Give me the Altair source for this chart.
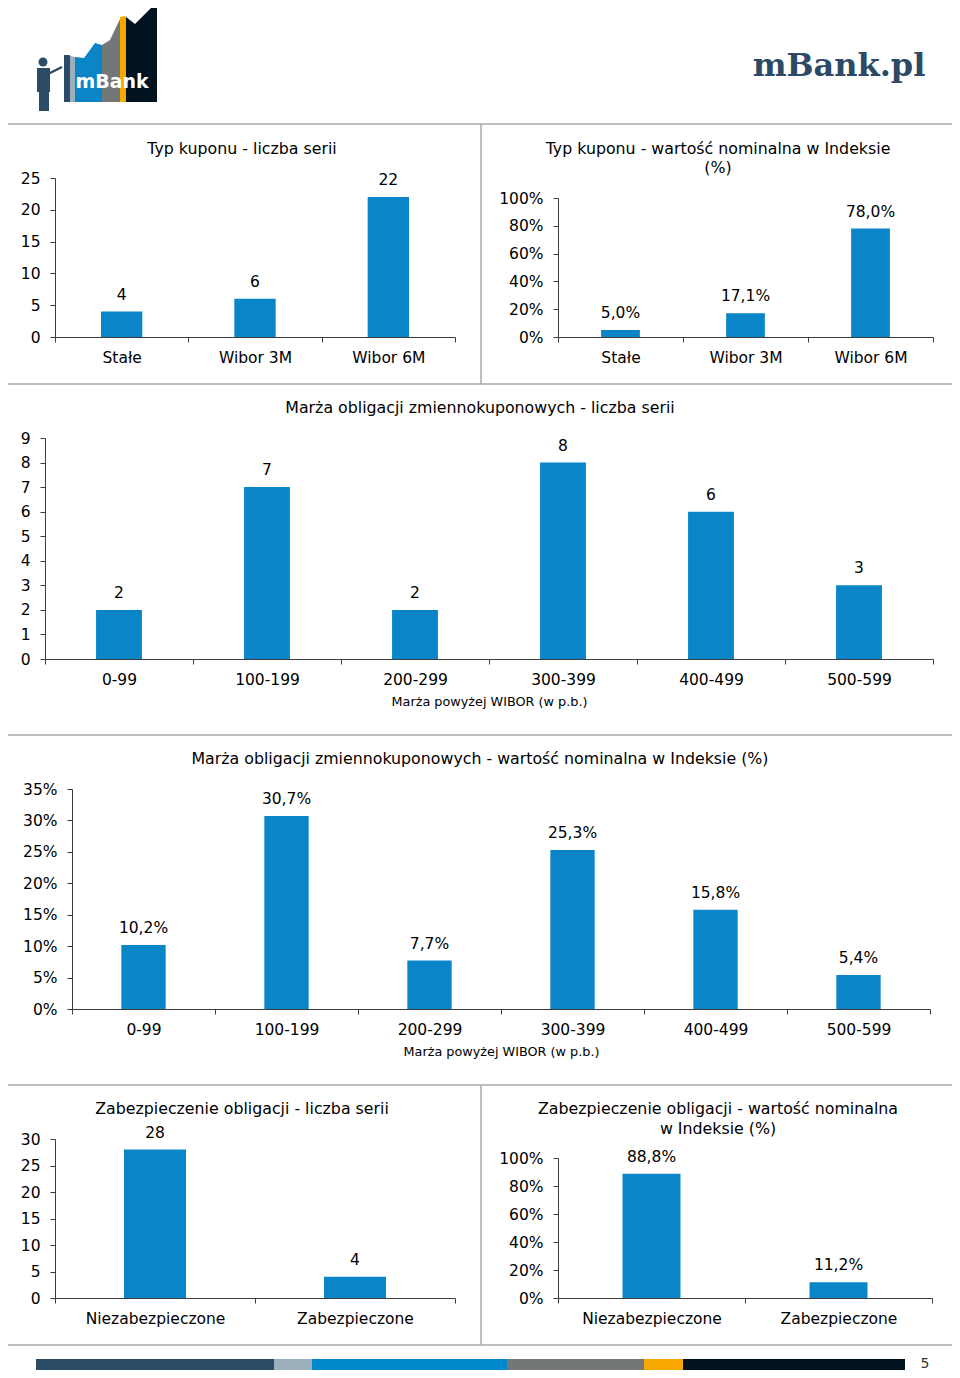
import altair as alt
import pandas as pd

# ---------------- data ----------------
coupon_types = ["Stałe", "Wibor 3M", "Wibor 6M"]
coupon_count = [4, 6, 22]
coupon_share = [5.0, 17.1, 78.0]

margin_bins = ["0-99", "100-199", "200-299", "300-399", "400-499", "500-599"]
margin_count = [2, 7, 2, 8, 6, 3]
margin_share = [10.2, 30.7, 7.7, 25.3, 15.8, 5.4]

security_types = ["Niezabezpieczone", "Zabezpieczone"]
security_count = [28, 4]
security_share = [88.8, 11.2]

titles_text = [
    "Typ kuponu - liczba serii",
    "Typ kuponu - wartość nominalna w Indeksie",
    "(%)",
    "Marża obligacji zmiennokuponowych - liczba serii",
    "Marża obligacji zmiennokuponowych - wartość nominalna w Indeksie (%)",
    "Zabezpieczenie obligacji - liczba serii",
    "Zabezpieczenie obligacji - wartość nominalna",
    "w Indeksie (%)",
]
x_axis_title = "Marża powyżej WIBOR (w p.b.)"

# ---------------- layout / style ----------------
W, H = 944, 1362
M = 8
FONT = "DejaVu Sans"
BLUE = "#0a86c8"
AXC = "#3c3c3c"
FS = 15.5
TFS = 15.8


def fmt_pct(v):
    return f"{v:.1f}".replace(".", ",") + "%"


def panel(cats, vals, pct, x0, x1, y0, y1, ymax, ystep, xtitle=None):
    labels = [fmt_pct(v) if pct else str(v) for v in vals]
    df = pd.DataFrame({"cat": cats, "val": vals, "lab": labels})
    xaxis = alt.Axis(
        orient="bottom", offset=(y0 - M) - H, tickBand="extent", labelAngle=0,
        labelFont=FONT, labelFontSize=FS, labelColor="#000", labelPadding=8,
        tickSize=5, tickColor=AXC, domainColor=AXC, domainWidth=1, tickWidth=1,
        grid=False, title=xtitle, titleFont=FONT, titleFontSize=12.8,
        titleFontWeight="normal", titleColor="#000", titlePadding=8,
    )
    yaxis = alt.Axis(
        orient="left", offset=-(x0 - M), values=list(range(0, ymax + 1, ystep)),
        labelFont=FONT, labelFontSize=FS, labelColor="#000", labelPadding=10,
        tickSize=5, tickColor=AXC, domainColor=AXC, domainWidth=1, tickWidth=1,
        grid=False, title=None,
        labelExpr="datum.value + '%'" if pct else "datum.label",
    )
    xenc = alt.X("cat:N", sort=cats,
                 scale=alt.Scale(type="band", range=[x0 - M, x1 - M],
                                 paddingInner=0, paddingOuter=0),
                 axis=xaxis)
    yenc = alt.Y("val:Q",
                 scale=alt.Scale(domain=[0, ymax], range=[y0 - M, y1 - M], nice=False),
                 axis=yaxis)
    bars = alt.Chart(df).mark_bar(color=BLUE, width=alt.RelativeBandSize(0.31)).encode(
        x=xenc, y=yenc)
    text = alt.Chart(df).mark_text(font=FONT, fontSize=FS, color="#000",
                                   baseline="alphabetic", dy=-12).encode(
        x=xenc, y=yenc, text="lab:N")
    return alt.layer(bars, text)


p1 = panel(coupon_types, coupon_count, False, 55, 455, 337, 178, 25, 5)
p2 = panel(coupon_types, coupon_share, True, 558, 933, 337, 198, 100, 20)
p3 = panel(margin_bins, margin_count, False, 45, 933, 659, 438, 9, 1, x_axis_title)
p4 = panel(margin_bins, margin_share, True, 72, 930, 1009, 789, 35, 5, x_axis_title)
p5 = panel(security_types, security_count, False, 55, 455, 1298, 1139, 30, 5)
p6 = panel(security_types, security_share, True, 558, 932, 1298, 1158, 100, 20)

# ---------------- decorations ----------------
one = pd.DataFrame({"d": [0]})

title_df = pd.DataFrame({
    "t": titles_text,
    "x": [v - M for v in [242, 718, 718, 480, 480, 242, 718, 718]],
    "y": [v - M for v in [149, 149, 168, 408, 759, 1109, 1109, 1129]],
})
titles = alt.Chart(title_df).mark_text(font=FONT, fontSize=TFS, color="#000",
                                       baseline="middle", align="center").encode(
    x=alt.X("x:Q", scale=None), y=alt.Y("y:Q", scale=None), text="t:N")

sep_df = pd.DataFrame({
    "x": [v - M for v in [3, 3, 3, 3, 3, 481, 481]],
    "x2": [v - M for v in [957, 957, 957, 957, 957, 481, 481]],
    "y": [v - M for v in [124, 384, 735, 1085, 1345, 124, 1085]],
    "y2": [v - M for v in [124, 384, 735, 1085, 1345, 384, 1345]],
})
seps = alt.Chart(sep_df).mark_rule(color="#a8a8a8", strokeWidth=1.5).encode(
    x=alt.X("x:Q", scale=None), x2="x2:Q", y=alt.Y("y:Q", scale=None), y2="y2:Q")

stripe_df = pd.DataFrame({
    "x": [v - M for v in [36, 274, 312, 507, 644, 683]],
    "x2": [v - M for v in [274, 312, 507, 644, 683, 905]],
    "c": ["#2b4c66", "#9bb0ba", "#0088cc", "#747778", "#f6a800", "#00131f"],
})
stripe = alt.Chart(stripe_df).mark_rect().encode(
    x=alt.X("x:Q", scale=None), x2="x2:Q",
    y=alt.value(1359 - M), y2=alt.value(1370 - M),
    color=alt.Color("c:N", scale=None))

page_no = alt.Chart(one).mark_text(font=FONT, fontSize=14, color="#333",
                                   baseline="middle", align="center", text="5").encode(
    x=alt.value(925 - M), y=alt.value(1364 - M))

brand = alt.Chart(one).mark_text(font="DejaVu Serif", fontSize=32, fontWeight="bold",
                                 color="#2c4a66", baseline="alphabetic", align="center",
                                 text="mBank.pl").encode(
    x=alt.value(839 - M), y=alt.value(76 - M))

# logo (decorative)
logo_df = pd.DataFrame({
    "s": ["a", "a", "b", "b", "c", "c", "c", "c", "d", "d", "d", "e", "e", "f", "f", "f", "f"],
    "x": [64, 70, 70, 75, 75, 84, 95, 102, 102, 110, 121, 120, 126, 126, 135, 155, 157],
    "top": [55, 55, 56, 57, 57, 58, 43, 45, 45, 40, 17, 17, 16, 17, 24, 4, 4],
    "c": ["#2b4c66"] * 2 + ["#9bb0ba"] * 2 + ["#0a86c8"] * 4 + ["#747778"] * 3
         + ["#f6a800"] * 2 + ["#00131f"] * 4,
})
logo_df["x"] = logo_df["x"] - M
logo_df["top"] = logo_df["top"] - M
logo_df["bot"] = 102 - M
logo = alt.Chart(logo_df).mark_area().encode(
    x=alt.X("x:Q", scale=None), y=alt.Y("top:Q", scale=None), y2="bot:Q",
    color=alt.Color("c:N", scale=None), detail="s:N")

man_df = pd.DataFrame({
    "x": [v - M for v in [37, 39, 44]],
    "x2": [v - M for v in [50, 44, 49]],
    "y": [v - M for v in [68, 90, 90]],
    "y2": [v - M for v in [92, 111, 111]],
})
man = alt.Chart(man_df).mark_rect(color="#2b4c66").encode(
    x=alt.X("x:Q", scale=None), x2="x2:Q", y=alt.Y("y:Q", scale=None), y2="y2:Q")
head = alt.Chart(one).mark_point(shape="circle", filled=True, size=80, opacity=1,
                                 color="#2b4c66").encode(
    x=alt.value(43 - M), y=alt.value(62 - M))
arm = alt.Chart(one).mark_rule(color="#2b4c66", strokeWidth=2.5).encode(
    x=alt.value(48 - M), x2=alt.value(62 - M), y=alt.value(74 - M), y2=alt.value(67 - M))
logo_txt = alt.Chart(one).mark_text(font=FONT, fontSize=19, fontWeight="bold",
                                    color="white", baseline="alphabetic", align="center",
                                    text="mBank").encode(
    x=alt.value(112 - M), y=alt.value(88 - M))

chart = alt.layer(
    seps, p1, p2, p3, p4, p5, p6, titles, stripe, page_no, brand,
    logo, man, head, arm, logo_txt,
).resolve_scale(x="independent", y="independent").properties(
    width=W, height=H, autosize=alt.AutoSizeParams(type="none"), padding=0,
).configure_view(stroke=None)

chart.save("out.html", embed_options={"renderer": "svg", "actions": False})
